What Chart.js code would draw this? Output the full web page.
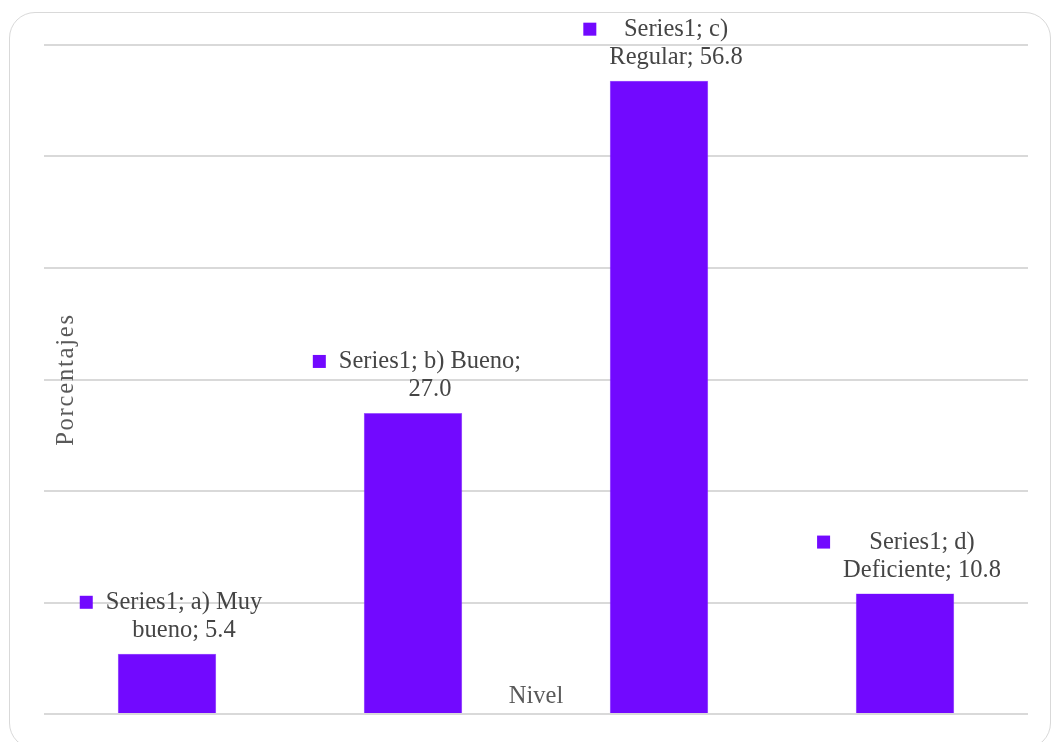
<!DOCTYPE html>
<html>
<head>
<meta charset="utf-8">
<script src="https://cdn.jsdelivr.net/npm/chart.js@4.4.0/dist/chart.umd.min.js"></script>
<style>
    html, body { margin: 0; padding: 0; background: #fff; overflow: hidden; }
    #frame {
        position: absolute; left: 9px; top: 12px; width: 1040px; height: 735px;
        border: 1.5px solid #d9d9d9; border-radius: 26px;
    }
    #wrap { position: absolute; left: 0; top: 0; width: 1051px; height: 742px; }
</style>
</head>
<body>
<div id="frame"></div>
<div id="wrap"><canvas id="myChart"></canvas></div>
<script>
const seriesName = 'Series1';
const categories = ['a) Muy bueno', 'b) Bueno', 'c) Regular', 'd) Deficiente'];
const values = [5.4, 27.0, 56.8, 10.8];
const yTicks = [0, 10, 20, 30, 40, 50, 60];

const barColor = '#7209ff';
const FONT = '"Liberation Serif", "Times New Roman", serif';

// wrap words to lines that fit maxWidth
function wrapText(ctx, text, maxWidth) {
    const words = text.split(' ');
    let lines = [];
    let line = '';
    words.forEach((w) => {
        const test = line ? line + ' ' + w : w;
        if (ctx.measureText(test).width > maxWidth && line) {
            lines.push(line);
            line = w;
        } else {
            line = test;
        }
    });
    if (line) lines.push(line);
    return lines;
}

const labelPlugin = {
    id: 'barLabels',
    afterDatasetsDraw(chart) {
        const ctx = chart.ctx;
        const meta = chart.getDatasetMeta(0);
        ctx.save();
        ctx.font = '24.5px ' + FONT;
        ctx.textBaseline = 'middle';
        ctx.textAlign = 'center';
        meta.data.forEach((bar, i) => {
            const text = seriesName + '; ' + categories[i] + '; ' + values[i].toFixed(1);
            const lines = wrapText(ctx, text, 190);
            let textW = 0;
            lines.forEach((l) => { textW = Math.max(textW, ctx.measureText(l).width); });
            const markW = 13, gap = 13, lineH = 28;
            const blockW = markW + gap + textW;
            const left = bar.x + 4 - blockW / 2;
            const textCx = left + markW + gap + textW / 2;
            const lastY = bar.y - 23;
            const firstY = lastY - (lines.length - 1) * lineH;
            ctx.fillStyle = barColor;
            ctx.fillRect(left, firstY - 7, markW, 13);
            ctx.fillStyle = '#454545';
            lines.forEach((l, k) => {
                ctx.fillText(l, textCx, firstY + k * lineH);
            });
        });
        ctx.restore();
    }
};

const titlePlugin = {
    id: 'axisTitles',
    afterDraw(chart) {
        const ctx = chart.ctx;
        const area = chart.chartArea;
        ctx.save();
        ctx.font = '24.5px ' + FONT;
        ctx.fillStyle = '#595959';
        ctx.textAlign = 'center';
        ctx.textBaseline = 'middle';
        ctx.fillText('Nivel', (area.left + area.right) / 2, area.bottom - 17);
        ctx.letterSpacing = '1.8px';
        ctx.translate(67, (area.top + area.bottom) / 2);
        ctx.rotate(-Math.PI / 2);
        ctx.fillText('Porcentajes', 0, 0);
        ctx.restore();
    }
};

const chartContext = document.getElementById('myChart').getContext('2d');
const chartConfig = {
    type: 'bar',
    data: {
        labels: categories,
        datasets: [{
            label: seriesName,
            data: values,
            backgroundColor: barColor,
            borderColor: '#9a5cff',
            borderWidth: 0.5,
            barPercentage: 0.4,
            categoryPercentage: 1.0
        }]
    },
    options: {
        responsive: false,
        animation: false,
        layout: { padding: { left: 44, right: 23, top: 45, bottom: 28 } },
        plugins: {
            legend: { display: false },
            tooltip: { enabled: false }
        },
        scales: {
            x: {
                grid: { display: false, drawTicks: false },
                border: { display: false },
                ticks: { display: false }
            },
            y: {
                min: yTicks[0],
                max: yTicks[yTicks.length - 1],
                afterBuildTicks: (axis) => { axis.ticks = yTicks.map((v) => ({ value: v })); },
                grid: { color: '#d9d9d9', lineWidth: 2, drawTicks: false },
                border: { display: false },
                ticks: { display: false }
            }
        }
    },
    plugins: [labelPlugin, titlePlugin]
};

const canvas = document.getElementById('myChart');
canvas.width = 1051;
canvas.height = 742;
const myChart = new Chart(chartContext, chartConfig);
</script>
</body>
</html>
